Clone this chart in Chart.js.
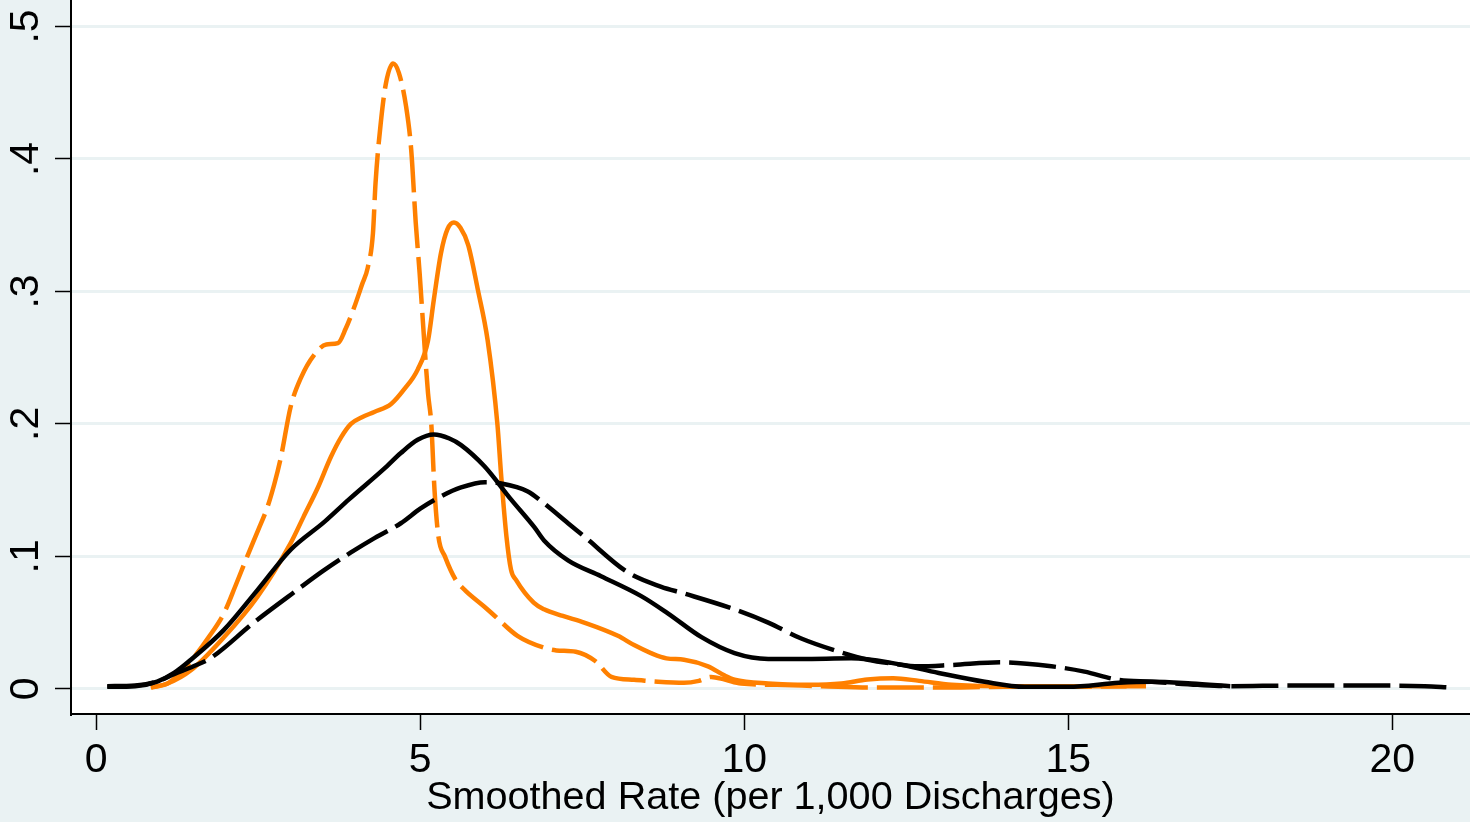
<!DOCTYPE html>
<html lang="en">
<head>
    <meta charset="UTF-8">
    <title>Smoothed Rate Density</title>
    <script src="https://cdn.jsdelivr.net/npm/chart.js"></script>
    <style>
        body {
            margin: 0;
            padding: 0;
            background: #EAF2F3;
        }

        .chart-box {
            width: 1470px;
            height: 822px;
        }
    </style>
</head>

<body>
    <div class="chart-box">
        <canvas id="densityChart"></canvas>
    </div>

    <script>
        // Tick values and labels
        const xTicks = [0, 5, 10, 15, 20];
        const yTicks = [0, 0.1, 0.2, 0.3, 0.4, 0.5];
        const yLabels = ["0", ".1", ".2", ".3", ".4", ".5"];

        // Orange dashed curve
        const orangeDashX = [0.85, 1.1, 1.3, 1.51, 1.75, 1.97, 2.15, 2.33, 2.5, 2.64, 2.75, 2.85, 3.0, 3.16, 3.36, 3.55, 3.73,
            3.85, 3.98, 4.1, 4.19, 4.27, 4.31, 4.39, 4.47, 4.58, 4.67, 4.78, 4.86, 4.93, 4.99, 5.06, 5.12, 5.17, 5.22,
            5.28, 5.38, 5.55, 5.7, 5.99, 6.15, 6.5, 6.91, 7.1, 7.4, 7.7, 7.95, 8.3, 8.67, 9.07, 9.3, 9.49, 9.7, 9.95,
            10.5, 11.2, 12.0, 13.0, 14.0, 15.0, 15.9];
        const orangeDashY = [0.001, 0.004, 0.012, 0.024, 0.040, 0.057, 0.078, 0.100, 0.120, 0.137, 0.155, 0.175, 0.213, 0.235,
            0.252, 0.260, 0.261, 0.272, 0.288, 0.305, 0.318, 0.344, 0.382, 0.427, 0.457, 0.472, 0.465, 0.440, 0.407,
            0.352, 0.314, 0.263, 0.223, 0.200, 0.150, 0.115, 0.100, 0.082, 0.074, 0.062, 0.055, 0.040, 0.031, 0.029,
            0.028, 0.021, 0.009, 0.0068, 0.0053, 0.0045, 0.006, 0.009, 0.007, 0.004, 0.003, 0.002, 0.001, 0.001,
            0.0015, 0.0015, 0.002];

        // Orange solid curve
        const orangeX = [0.84, 1.1, 1.46, 1.97, 2.48, 3.0, 3.2, 3.42, 3.62, 3.78, 3.93, 4.1, 4.29, 4.55, 4.75, 4.96, 5.12,
            5.21, 5.32, 5.42, 5.52, 5.62, 5.74, 5.89, 6.04, 6.19, 6.25, 6.33, 6.40, 6.48, 6.75, 6.91, 7.2, 7.53, 8.05,
            8.3, 8.56, 8.8, 9.07, 9.44, 9.7, 9.85, 10.37, 11.0, 11.5, 11.9, 12.3, 12.7, 13.2, 14.0, 15.0, 16.2];
        const orangeY = [0.001, 0.004, 0.014, 0.039, 0.069, 0.110, 0.130, 0.152, 0.175, 0.190, 0.200, 0.205, 0.209, 0.215,
            0.226, 0.241, 0.263, 0.294, 0.329, 0.347, 0.352, 0.348, 0.335, 0.301, 0.263, 0.200, 0.160, 0.115, 0.090,
            0.082, 0.065, 0.060, 0.055, 0.050, 0.040, 0.033, 0.027, 0.023, 0.022, 0.017, 0.010, 0.007, 0.004, 0.003,
            0.004, 0.007, 0.008, 0.006, 0.003, 0.002, 0.002, 0.002];

        // Black solid curve
        const blackX = [0.17, 0.6, 0.94, 1.2, 1.46, 1.97, 2.49, 3.0, 3.52, 3.9, 4.44, 4.70, 4.96, 5.21, 5.45, 5.63,
            5.99, 6.40, 6.76, 6.91, 7.28, 7.79, 8.41, 8.82, 9.34, 9.85, 10.37, 10.88, 11.65, 12.27, 13.0, 13.71, 14.33,
            15.0, 15.78, 16.29, 16.9, 17.5];
        const blackY = [0.0015, 0.002, 0.0055, 0.012, 0.022, 0.0445, 0.0747, 0.105, 0.126, 0.143, 0.166, 0.178,
            0.188, 0.192, 0.189, 0.184, 0.168, 0.143, 0.122, 0.112, 0.097, 0.085, 0.070, 0.057, 0.039, 0.027, 0.0226,
            0.0226, 0.023, 0.0196, 0.012, 0.0053, 0.0015, 0.0015, 0.0045, 0.0053, 0.004, 0.002];

        // Black dashed curve
        const blackDashX = [0.17, 0.6, 0.94, 1.2, 1.5, 1.77, 2.43, 3.11, 3.5, 3.93, 4.3, 4.70, 5.0, 5.27, 5.63, 6.0, 6.25,
            6.66, 6.91, 7.28, 7.53, 8.2, 8.72, 9.07, 9.85, 10.37, 10.88, 11.4, 11.91, 12.3, 12.69, 13.2, 13.97, 14.74,
            15.25, 15.77, 16.29, 17.0, 17.5, 18.5, 19.5, 20.5, 20.88];
        const blackDashY = [0.002, 0.0025, 0.0055, 0.011, 0.017, 0.0234, 0.050, 0.075, 0.089, 0.103, 0.114, 0.125, 0.136,
            0.144, 0.152, 0.156, 0.155, 0.149, 0.140, 0.125, 0.115, 0.088, 0.077, 0.072, 0.060, 0.050, 0.038, 0.029,
            0.022, 0.019, 0.017, 0.018, 0.020, 0.017, 0.013, 0.0068, 0.0053, 0.003, 0.002, 0.0025, 0.0025, 0.002, 0.001];

        const ORANGE = '#FF8000';
        const DASH = [47, 9];

        function toPoints(xs, ys) {
            return xs.map((x, i) => ({ x: x, y: ys[i] }));
        }

        function curve(xs, ys, color, dashed) {
            return {
                data: toPoints(xs, ys),
                borderColor: color,
                borderWidth: 4.5,
                borderDash: dashed ? DASH : [],
                borderJoinStyle: 'round',
                pointRadius: 0,
                fill: false,
                cubicInterpolationMode: 'monotone'
            };
        }

        // Stata-like background: grey page, white plot region
        const backgroundPlugin = {
            id: 'background',
            beforeDraw(chart) {
                const { ctx, chartArea } = chart;
                ctx.save();
                ctx.fillStyle = '#EAF2F3';
                ctx.fillRect(0, 0, chart.width, chart.height);
                ctx.fillStyle = '#FFFFFF';
                ctx.fillRect(chartArea.left, chartArea.top, chartArea.right - chartArea.left, chartArea.bottom - chartArea.top);
                ctx.restore();
            }
        };

        // Rotated y tick labels
        const yLabelPlugin = {
            id: 'yLabels',
            afterDraw(chart) {
                const ctx = chart.ctx;
                const yScale = chart.scales.y;
                ctx.save();
                ctx.fillStyle = '#000';
                ctx.font = '41px "Liberation Sans", Arial, sans-serif';
                ctx.textAlign = 'center';
                ctx.textBaseline = 'alphabetic';
                yTicks.forEach((v, i) => {
                    ctx.save();
                    ctx.translate(38, yScale.getPixelForValue(v));
                    ctx.rotate(-Math.PI / 2);
                    ctx.fillText(yLabels[i], 0, 0);
                    ctx.restore();
                });
                ctx.restore();
            }
        };

        const ctx = document.getElementById('densityChart').getContext('2d');
        const densityChart = new Chart(ctx, {
            type: 'line',
            data: {
                datasets: [
                    curve(blackX, blackY, '#000000', false),
                    curve(blackDashX, blackDashY, '#000000', true),
                    curve(orangeX, orangeY, ORANGE, false),
                    curve(orangeDashX, orangeDashY, ORANGE, true)
                ]
            },
            options: {
                responsive: true,
                maintainAspectRatio: false,
                animation: false,
                layout: { padding: 0 },
                plugins: {
                    legend: { display: false },
                    tooltip: { enabled: false }
                },
                scales: {
                    x: {
                        type: 'linear',
                        min: -0.39,
                        max: 21.2,
                        afterBuildTicks: s => { s.ticks = xTicks.map(v => ({ value: v })); },
                        afterFit: s => { s.height = 108; },
                        grid: { drawOnChartArea: false, drawTicks: true, tickLength: 16, tickColor: '#000', tickWidth: 1.5 },
                        border: { color: '#000', width: 2 },
                        ticks: {
                            color: '#000',
                            maxRotation: 0,
                            padding: 6,
                            font: { family: '"Liberation Sans", Arial, sans-serif', size: 41 }
                        },
                        title: {
                            display: true,
                            text: 'Smoothed Rate (per 1,000 Discharges)',
                            color: '#000',
                            padding: { top: 0, bottom: 0 },
                            font: { family: '"Liberation Sans", Arial, sans-serif', size: 39.6 }
                        }
                    },
                    y: {
                        type: 'linear',
                        min: -0.019,
                        max: 0.52,
                        afterBuildTicks: s => { s.ticks = yTicks.map(v => ({ value: v })); },
                        afterFit: s => { s.width = 71; },
                        grid: { color: '#EAF2F3', lineWidth: 3, drawTicks: true, tickLength: 16, tickColor: '#000', tickWidth: 1.5 },
                        border: { color: '#000', width: 2 },
                        ticks: { display: false }
                    }
                }
            },
            plugins: [backgroundPlugin, yLabelPlugin]
        });
    </script>
</body>
</html>
